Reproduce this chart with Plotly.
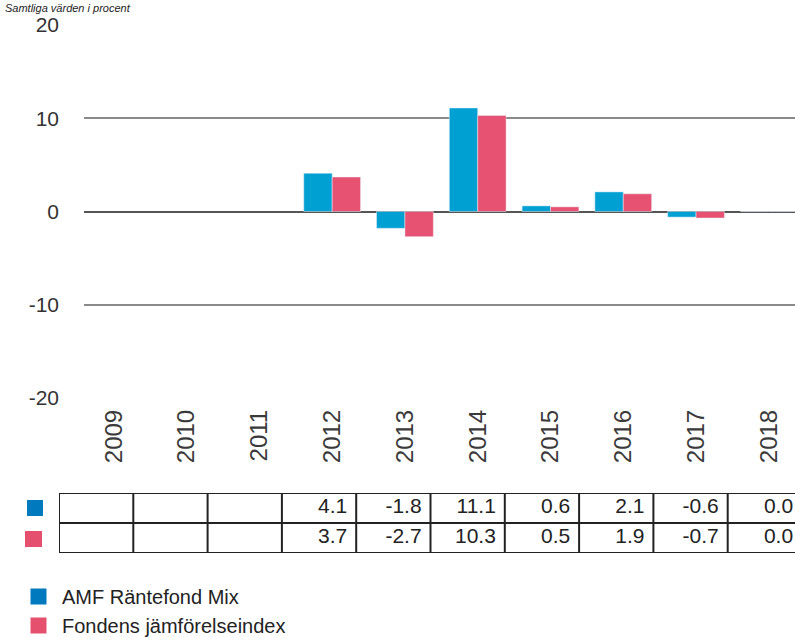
import plotly.graph_objects as go

years = ["2009", "2010", "2011", "2012", "2013", "2014", "2015", "2016", "2017", "2018"]
fund = [None, None, None, 4.1, -1.8, 11.1, 0.6, 2.1, -0.6, 0.0]
index = [None, None, None, 3.7, -2.7, 10.3, 0.5, 1.9, -0.7, 0.0]
series_names = ["AMF Räntefond Mix", "Fondens jämförelseindex"]
y_ticks = [20, 10, 0, -10, -20]
y_tick_text = ["20", "10", "0", "-10", "-20"]

BAR_BLUE = "#00A0D3"
BAR_PINK = "#E85272"
KEY_BLUE = "#0079BE"
KEY_PINK = "#E5506F"
W, H = 795, 638
FONT = "Liberation Sans"

def py(px):
    return 1 - px / H

fig = go.Figure()
fig.add_trace(go.Bar(x=years, y=fund, marker_color=BAR_BLUE, showlegend=False, name=series_names[0]))
fig.add_trace(go.Bar(x=years, y=index, marker_color=BAR_PINK, showlegend=False, name=series_names[1]))

# legend entries
for nm, col in zip(series_names, [KEY_BLUE, KEY_PINK]):
    fig.add_trace(go.Scatter(x=[None], y=[None], mode="markers", name=nm,
                             marker=dict(symbol="square", size=16, color=col)))

# table text
n = len(years)
def fmt(v):
    return "" if v is None else f"{v:.1f}"
for row, vals in enumerate([fund, index]):
    fig.add_trace(go.Scatter(
        x=[i + 1 - 0.12 for i in range(n)], y=[1.5 - row] * n,
        mode="text", text=[fmt(v) for v in vals], textposition="middle left",
        textfont=dict(family=FONT, size=21, color="#222"), cliponaxis=False,
        xaxis="x2", yaxis="y2", showlegend=False, hoverinfo="skip"))

x2_range = [0, (W - 59) / 74.3]
shapes = []
for k in range(3):
    shapes.append(dict(type="line", xref="x2", yref="y2", x0=0, x1=x2_range[1], y0=k, y1=k,
                       line=dict(color="#222", width=2)))
for k in range(n):
    shapes.append(dict(type="line", xref="x2", yref="y2", x0=k, x1=k, y0=0, y1=2,
                       line=dict(color="#222", width=2)))
# table keys
shapes.append(dict(type="rect", xref="paper", yref="paper", x0=27 / W, x1=43 / W, y0=py(516), y1=py(500),
                   fillcolor=KEY_BLUE, line=dict(width=0)))
shapes.append(dict(type="rect", xref="paper", yref="paper", x0=25 / W, x1=42 / W, y0=py(547), y1=py(531),
                   fillcolor=KEY_PINK, line=dict(width=0)))

fig.update_layout(
    width=W, height=H,
    margin=dict(l=0, r=0, t=0, b=0, autoexpand=False),
    paper_bgcolor="white", plot_bgcolor="white",
    barmode="group", bargap=0.22, bargroupgap=0,
    font=dict(family=FONT, color="#333"),
    hovermode=False,
    xaxis=dict(domain=[84 / W, 1], range=[-0.41, 9.36], tickangle=-90,
               tickfont=dict(size=24, color="#3a3a3a"), showgrid=False, showline=False,
               ticks="", ticklabelstandoff=6, fixedrange=True, automargin=False),
    yaxis=dict(domain=[py(398), py(25)], range=[-20, 20], tickvals=y_ticks, ticktext=y_tick_text,
               tickfont=dict(size=21, color="#333"), showgrid=True, gridcolor="#8a8a8a", gridwidth=2,
               zeroline=True, zerolinecolor="#555", zerolinewidth=2, showline=False,
               ticks="", ticklabelstandoff=24, automargin=False, fixedrange=True),
    xaxis2=dict(domain=[59 / W, 1], range=x2_range, anchor="y2", visible=False, automargin=False),
    yaxis2=dict(domain=[py(553), py(493)], range=[0, 2], anchor="x2", visible=False, automargin=False),
    shapes=shapes,
    legend=dict(x=15 / W, y=py(577), xanchor="left", yanchor="top", font=dict(family=FONT, size=20, color="#222"),
                tracegroupgap=0, itemwidth=37, bgcolor="rgba(0,0,0,0)"),
    annotations=[dict(text="<i>Samtliga värden i procent</i>", xref="paper", yref="paper", x=0, y=1,
                      xanchor="left", yanchor="top", xshift=3, showarrow=False,
                      font=dict(family=FONT, size=11, color="#222"))],
)
fig.write_html("out.html", config={"displayModeBar": False},
               post_script="document.body.style.margin='0';document.body.style.padding='0';")
